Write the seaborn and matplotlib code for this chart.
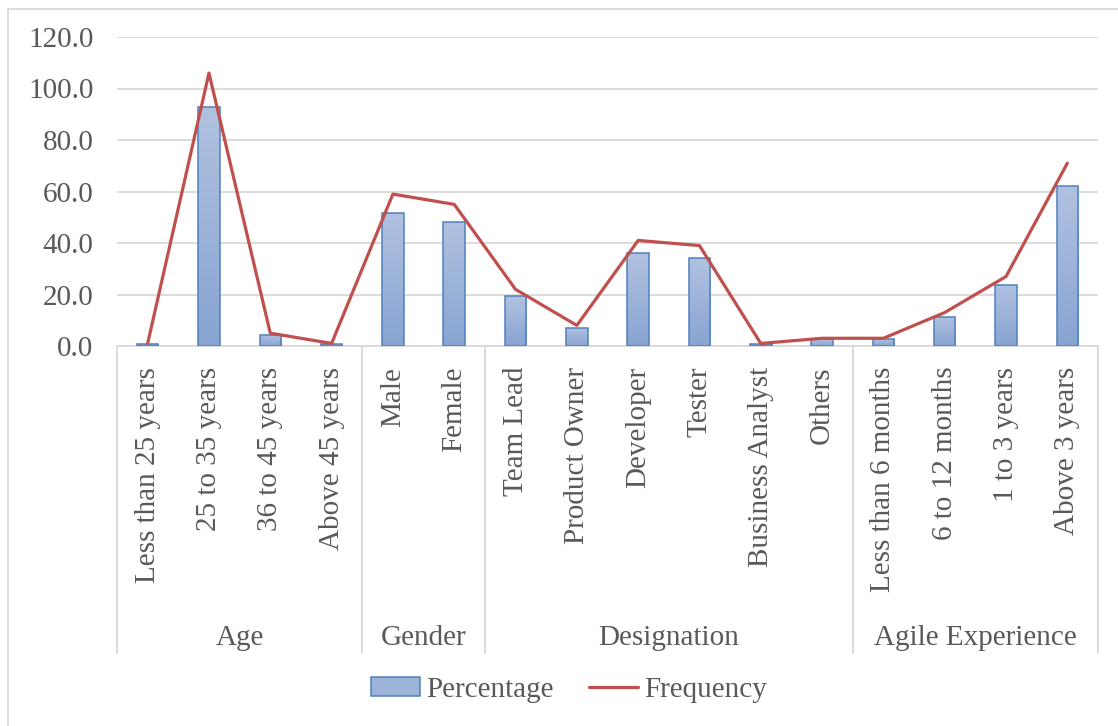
import numpy as np
import pandas as pd
import matplotlib
matplotlib.use("Agg")
import matplotlib.pyplot as plt
from matplotlib.lines import Line2D
from matplotlib.colors import LinearSegmentedColormap
import seaborn as sns

# Survey demographics
categories = [
    "Less than 25 years", "25 to 35 years", "36 to 45 years", "Above 45 years",
    "Male", "Female",
    "Team Lead", "Product Owner", "Developer", "Tester", "Business Analyst", "Others",
    "Less than 6 months", "6 to 12 months", "1 to 3 years", "Above 3 years",
]
groups = ["Age", "Gender", "Designation", "Agile Experience"]
group_sizes = [4, 2, 6, 4]
percentage = [0.9, 93.0, 4.4, 0.9,
              51.8, 48.2,
              19.3, 7.0, 36.0, 34.2, 0.9, 2.6,
              2.6, 11.4, 23.7, 62.3]
frequency = [1, 106, 5, 1,
             59, 55,
             22, 8, 41, 39, 1, 3,
             3, 13, 27, 71]
y_ticks = [0, 20, 40, 60, 80, 100, 120]

TEXT = "#595959"
GRID = "#d9d9d9"
BAR_EDGE = "#4f81bd"
LINE = "#c0504d"

sns.set_theme(style="white")
plt.rcParams["font.family"] = ["Liberation Serif", "DejaVu Serif"]
FS = 21

df = pd.DataFrame({"category": categories, "percentage": percentage,
                   "frequency": frequency})

fig = plt.figure(figsize=(11.18, 7.26), dpi=100)
ax = fig.add_axes([117 / 1118, 1 - 346 / 726, (1098 - 117) / 1118, 309 / 726])

sns.barplot(data=df, x="category", y="percentage", order=categories,
            width=0.35, color="#9cb3da", edgecolor=BAR_EDGE, linewidth=1.1,
            ax=ax, label="Percentage", zorder=3)

# vertical gradient fill inside each bar
grad = LinearSegmentedColormap.from_list("barfill", ["#88a4d2", "#b1c2e1"])
gimg = np.linspace(0, 1, 64).reshape(-1, 1)
for bar in list(ax.patches):
    x0, y0 = bar.get_x(), bar.get_y()
    w, h = bar.get_width(), bar.get_height()
    im = ax.imshow(gimg, cmap=grad, origin="lower", aspect="auto",
                   extent=[x0, x0 + w, y0, y0 + h], zorder=3.5)
    im.set_clip_path(bar)
    bar.set_facecolor("none")
    bar.set_zorder(4)

positions = np.arange(len(categories))
sns.lineplot(x=positions, y=frequency, color=LINE, linewidth=2.3,
             ax=ax, label="Frequency", zorder=5, sort=False)

ax.set_xlim(-0.5, len(categories) - 0.5)
ax.set_ylim(0, 120)
ax.set_yticks(y_ticks)
ax.set_yticklabels([f"{v:.1f}" for v in y_ticks], color=TEXT, fontsize=FS)
ax.tick_params(axis="y", length=0, pad=17)
ax.tick_params(axis="x", length=0, pad=15)
ax.set_xticks(positions)
ax.set_xticklabels(categories, rotation=90, color=TEXT, fontsize=FS,
                   ha="center", va="top")
ax.set_xlabel("")
ax.set_ylabel("")
ax.yaxis.grid(True, color=GRID, linewidth=1.3, zorder=0)
ax.set_axisbelow(True)
for side in ("left", "right", "top"):
    ax.spines[side].set_visible(False)
ax.spines["bottom"].set_color(GRID)
ax.spines["bottom"].set_linewidth(1.3)
ax.spines["bottom"].set_zorder(2)

# group separators and group names below the category labels
trans = ax.get_xaxis_transform()
bounds = np.concatenate([[0], np.cumsum(group_sizes)]) - 0.5
for b in bounds:
    ax.plot([b, b], [0, -0.995], transform=trans, color=GRID, linewidth=1.3,
            clip_on=False)
for g, lo, hi in zip(groups, bounds[:-1], bounds[1:]):
    ax.text((lo + hi) / 2, -0.945, g, transform=trans, ha="center",
            va="center", color=TEXT, fontsize=FS)

ax.get_legend().remove()
handles = [
    matplotlib.patches.Patch(facecolor="#9db4da", edgecolor=BAR_EDGE,
                             linewidth=1.1, label="Percentage"),
    Line2D([0], [0], color=LINE, linewidth=2.3, label="Frequency"),
]
leg = fig.legend(handles=handles, loc="center", ncol=2,
                 bbox_to_anchor=(569 / 1118, 1 - 690 / 726), frameon=False,
                 fontsize=FS, handlelength=1.7, handleheight=0.6,
                 handletextpad=0.2, columnspacing=1.2)
for t in leg.get_texts():
    t.set_color(TEXT)

# chart-area border
fig.add_artist(Line2D([8 / 1118, 1], [1 - 9 / 726, 1 - 9 / 726],
                      transform=fig.transFigure, color=GRID, linewidth=1.3))
fig.add_artist(Line2D([8 / 1118, 8 / 1118], [0, 1 - 9 / 726],
                      transform=fig.transFigure, color=GRID, linewidth=1.3))

fig.savefig("out.png", dpi=100, facecolor="white")
